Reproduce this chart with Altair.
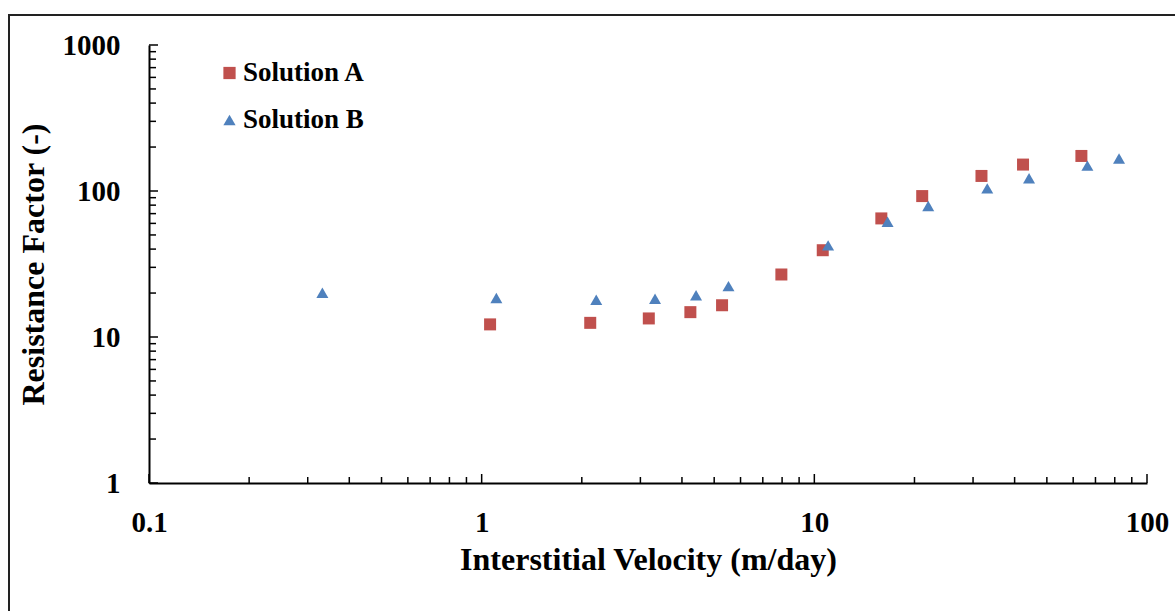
import altair as alt
import pandas as pd

# ---- data ----
A_X = [1.06, 2.12, 3.18, 4.24, 5.28, 7.96, 10.6, 15.9, 21.1, 31.8, 42.4, 63.5]
A_Y = [12.2, 12.5, 13.4, 14.8, 16.5, 26.8, 39.3, 64.9, 92.3, 126.8, 151.7, 173.8]
B_X = [0.332, 1.107, 2.21, 3.32, 4.41, 5.52, 11.0, 16.6, 22.0, 33.1, 44.2, 66.2, 82.4]
B_Y = [20.1, 18.5, 18.0, 18.3, 19.3, 22.3, 42.4, 61.6, 78.9, 104.3, 122.2, 149.3, 166.8]
SERIES = ["Solution A", "Solution B"]
COLORS = ["#C0504D", "#4F81BD"]
SHAPES = ["square", "triangle-up"]

X_MAJOR = [0.1, 1, 10, 100]
X_MINOR = [0.2, 0.3, 0.4, 0.5, 0.6, 0.7, 0.8, 0.9,
           2, 3, 4, 5, 6, 7, 8, 9,
           20, 30, 40, 50, 60, 70, 80, 90]
Y_MAJOR = [1, 10, 100, 1000]
Y_MINOR = [2, 3, 4, 5, 6, 7, 8, 9,
           20, 30, 40, 50, 60, 70, 80, 90,
           200, 300, 400, 500, 600, 700, 800, 900]

X_TITLE = "Interstitial Velocity (m/day)"
Y_TITLE = "Resistance Factor (-)"

FONT = "Liberation Serif"
W, H = 998, 438

rows = []
for xv, yv in zip(A_X, A_Y):
    rows.append({"kind": "pt", "v": xv, "rf": yv, "series": SERIES[0]})
for xv, yv in zip(B_X, B_Y):
    rows.append({"kind": "pt", "v": xv, "rf": yv, "series": SERIES[1]})
for xv in X_MAJOR:
    rows.append({"kind": "xmaj", "v": xv, "rf": 1, "series": SERIES[0]})
for xv in X_MINOR:
    rows.append({"kind": "xmin", "v": xv, "rf": 1, "series": SERIES[0]})
for yv in Y_MAJOR:
    rows.append({"kind": "ymaj", "v": 0.1, "rf": yv, "series": SERIES[0]})
for yv in Y_MINOR:
    rows.append({"kind": "ymin", "v": 0.1, "rf": yv, "series": SERIES[0]})
df = pd.DataFrame(rows)

xscale = alt.Scale(type="log", domain=[0.1, 100], nice=False)
yscale = alt.Scale(type="log", domain=[1, 1000], nice=False)

xaxis = alt.Axis(values=X_MAJOR, format="~g", ticks=False, tickSize=0,
                 grid=False, domainColor="black", domainWidth=2,
                 labelFont=FONT, labelFontSize=29, labelFontWeight="bold",
                 labelColor="black", labelBaseline="alphabetic",
                 labelPadding=48, labelFlush=False,
                 titleFont=FONT, titleFontSize=32, titleFontWeight="bold",
                 titleColor="black", titleBaseline="alphabetic",
                 titleX=W / 2, titleY=86, titleAlign="center")
yaxis = alt.Axis(values=Y_MAJOR, format="~g", ticks=False, tickSize=0,
                 grid=False, domainColor="black", domainWidth=2,
                 labelFont=FONT, labelFontSize=29, labelFontWeight="bold",
                 labelColor="black", labelPadding=29, labelFlush=False,
                 titleFont=FONT, titleFontSize=32, titleFontWeight="bold",
                 titleColor="black", titleBaseline="alphabetic",
                 titleAngle=270, titleX=-106, titleY=H / 2,
                 titleAlign="center")

X_ENC = alt.X("v:Q", scale=xscale, title=X_TITLE, axis=xaxis)
Y_ENC = alt.Y("rf:Q", scale=yscale, title=Y_TITLE, axis=yaxis)

def legend():
    return alt.Legend(title=None, orient="none", legendX=67, legendY=14.5,
                      padding=0, symbolSize=150, symbolOpacity=1,
                      symbolStrokeWidth=0, labelFont=FONT, labelFontSize=27,
                      labelFontWeight="bold", labelColor="black",
                      labelOffset=0, rowPadding=19)

base = alt.Chart(df)

points = base.transform_filter(alt.datum.kind == "pt").mark_point(
    filled=True, opacity=1, size=144).encode(
    x=X_ENC, y=Y_ENC,
    color=alt.Color("series:N", scale=alt.Scale(domain=SERIES, range=COLORS),
                    legend=legend()),
    shape=alt.Shape("series:N", scale=alt.Scale(domain=SERIES, range=SHAPES),
                    legend=legend()),
)

def xticks(kind, length):
    return base.transform_filter(alt.datum.kind == kind).mark_rule(
        color="black", strokeWidth=1.5).encode(
        x=X_ENC, y=Y_ENC, y2=alt.value(H - length))

def yticks(kind, length):
    return base.transform_filter(alt.datum.kind == kind).mark_rule(
        color="black", strokeWidth=1.5).encode(
        y=Y_ENC, x=X_ENC, x2=alt.value(length))

frame = base.transform_filter(alt.datum.kind == "xmaj").transform_filter(
    alt.datum.v == 1).mark_rect(
    fill="white", fillOpacity=0, stroke="#222222", strokeWidth=2).encode(
    x=alt.value(-140), x2=alt.value(1175 - 149 + 20),
    y=alt.value(-30), y2=alt.value(611 - 45 + 20))

chart = alt.layer(
    frame,
    xticks("xmaj", 9), xticks("xmin", 6),
    yticks("ymaj", 9), yticks("ymin", 7),
    points,
).properties(
    width=W, height=H,
    autosize=alt.AutoSizeParams(type="none"),
    padding={"left": 149, "top": 45, "right": 28, "bottom": 128},
    background="white",
).configure_view(strokeWidth=0)

chart.save("out.html", embed_options={"renderer": "svg", "actions": False})
